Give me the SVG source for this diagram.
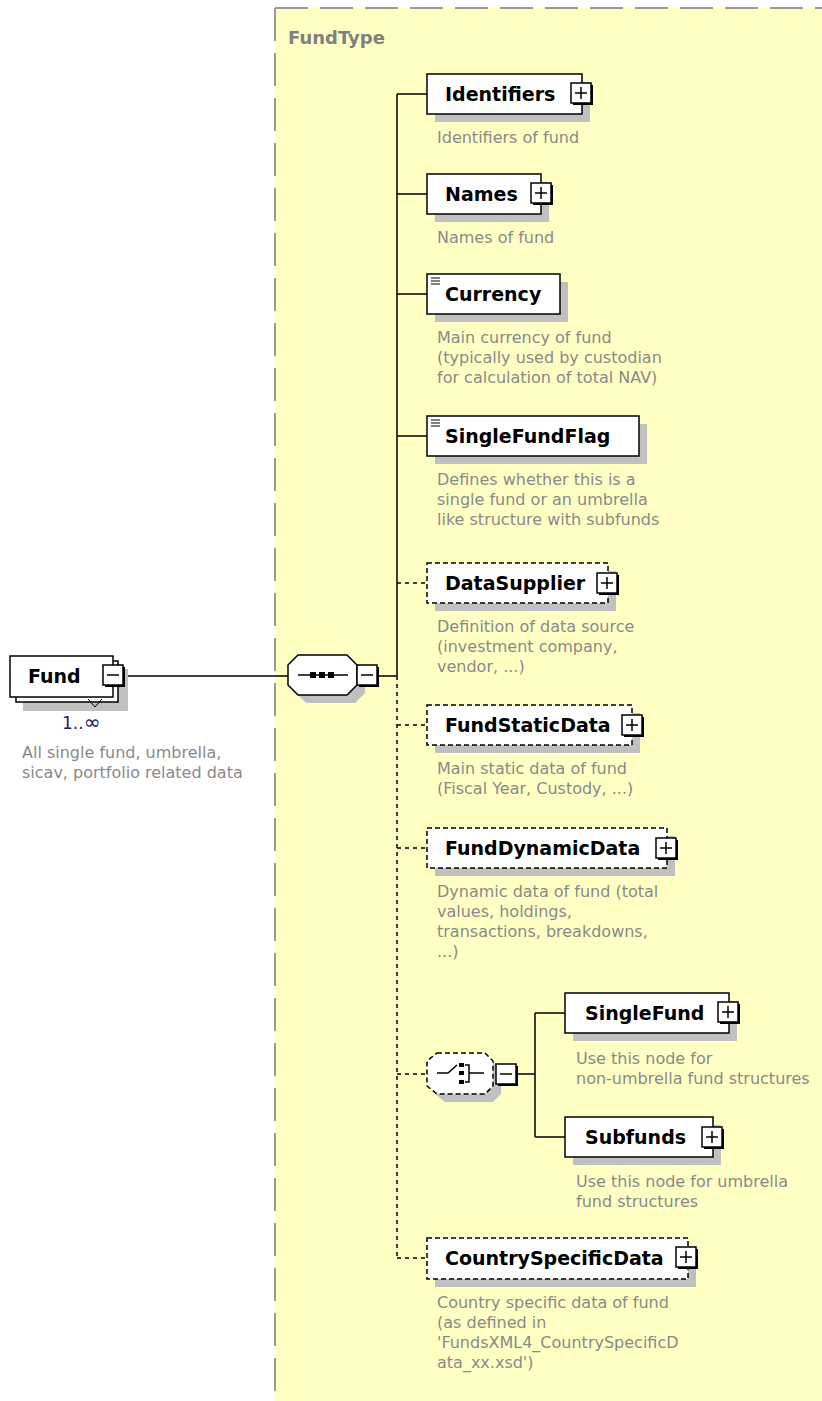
<svg xmlns="http://www.w3.org/2000/svg" xmlns:xlink="http://www.w3.org/1999/xlink" width="822" height="1401" viewBox="0 0 822 1401">
<style>
.box{fill:#fff;stroke:#000;stroke-width:1.5}
.dbox{fill:#fff;stroke:#000;stroke-width:1.5;stroke-dasharray:5 3}
.sh{fill:#c0c0c0}
.lbl{font-family:"DejaVu Sans",sans-serif;font-weight:bold;font-size:19px;fill:#000}
.desc{font-family:"DejaVu Sans",sans-serif;font-size:16px;fill:#8a8a8a}
.ln{stroke:#000;stroke-width:1.5;fill:none}
.dl{stroke:#000;stroke-width:1.5;fill:none;stroke-dasharray:4 4}
.frame{stroke:#999;stroke-width:2;fill:none;stroke-dasharray:33 12}
</style>
<defs>
<g id="plus"><rect x="2" y="2" width="20" height="20" fill="#000"/><rect x="0" y="0" width="20" height="20" fill="#fff" stroke="#000" stroke-width="1.5"/><path d="M4 10H16M10 4V16" stroke="#000" stroke-width="1.5"/></g>
<g id="minus"><rect x="2" y="2" width="20" height="20" fill="#000"/><rect x="0" y="0" width="20" height="20" fill="#fff" stroke="#000" stroke-width="1.5"/><path d="M4 10H16" stroke="#000" stroke-width="1.5"/></g>
<g id="simple"><path d="M4 4H13M4 7H13M4 10H13" stroke="#000" stroke-width="1.2"/></g>
</defs>
<rect x="0" y="0" width="822" height="1401" fill="#fff"/>
<g id="FundType">
<rect x="275" y="8" width="547" height="1393" fill="#FFFFC4"/>
<path class="frame" d="M275,8 H822 M275,8 V1401"/>
<text x="288" y="44" font-family="DejaVu Sans,sans-serif" font-weight="bold" font-size="18" fill="#808080">FundType</text>
</g>
<g id="connectors">
<path class="ln" d="M123,676 H288 M379,676 H397 M397,94 V676 M397,94 H427 M397,194 H427 M397,294 H427 M397,436 H427"/>
<path class="dl" d="M397,676 V1258 M397,583 H427 M397,725 H427 M397,848 H427 M397,1074 H427 M397,1258 H427"/>
<path class="ln" d="M518,1074 H535 M535,1013 V1137 M535,1013 H565 M535,1137 H565"/>
</g>
<g id="Fund">
<rect class="sh" x="23" y="669" width="105" height="42"/>
<rect class="box" x="16" y="661" width="102" height="41"/>
<rect class="box" x="10" y="656" width="103" height="41"/>
<path d="M88,699 L95,707 L102,699" stroke="#000" stroke-width="1" fill="none"/>
<text class="lbl" x="28" y="683">Fund</text>
<use xlink:href="#minus" x="103" y="665"/>
<text x="62" y="729" font-family="DejaVu Sans,sans-serif" font-size="17" fill="#202060">1..<tspan font-size="20">∞</tspan></text>
<text class="desc" x="22" y="758">All single fund, umbrella,</text>
<text class="desc" x="22" y="778">sicav, portfolio related data</text>
</g>
<g id="sequence">
<path class="sh" d="M306,663 H355 L365,673 V693 L355,703 H306 L296,693 V673 Z"/>
<path class="box" d="M298,655 H347 L357,665 V685 L347,695 H298 L288,685 V665 Z"/>
<path d="M298,675 H348" stroke="#000" stroke-width="1.5"/>
<rect x="310" y="672" width="6" height="6" fill="#000"/>
<rect x="319" y="672" width="6" height="6" fill="#000"/>
<rect x="328" y="672" width="6" height="6" fill="#000"/>
<use xlink:href="#minus" x="357" y="665"/>
</g>
<g id="Identifiers">
<rect class="sh" x="435" y="82" width="155" height="40"/>
<rect class="box" x="427" y="74" width="155" height="40"/>
<text class="lbl" x="445" y="101">Identifiers</text>
<use xlink:href="#plus" x="571" y="83"/>
<text class="desc" x="437" y="143">Identifiers of fund</text>
</g>
<g id="Names">
<rect class="sh" x="435" y="182" width="114" height="40"/>
<rect class="box" x="427" y="174" width="114" height="40"/>
<text class="lbl" x="445" y="201">Names</text>
<use xlink:href="#plus" x="531" y="183"/>
<text class="desc" x="437" y="243">Names of fund</text>
</g>
<g id="Currency">
<rect class="sh" x="435" y="282" width="133" height="40"/>
<rect class="box" x="427" y="274" width="133" height="40"/>
<use xlink:href="#simple" x="427" y="274"/>
<text class="lbl" x="445" y="301">Currency</text>
<text class="desc" x="437" y="343">Main currency of fund</text>
<text class="desc" x="437" y="363">(typically used by custodian</text>
<text class="desc" x="437" y="383">for calculation of total NAV)</text>
</g>
<g id="SingleFundFlag">
<rect class="sh" x="435" y="424" width="212" height="40"/>
<rect class="box" x="427" y="416" width="212" height="40"/>
<use xlink:href="#simple" x="427" y="416"/>
<text class="lbl" x="445" y="443">SingleFundFlag</text>
<text class="desc" x="437" y="485">Defines whether this is a</text>
<text class="desc" x="437" y="505">single fund or an umbrella</text>
<text class="desc" x="437" y="525">like structure with subfunds</text>
</g>
<g id="DataSupplier">
<rect class="sh" x="435" y="571" width="181" height="40"/>
<rect class="dbox" x="427" y="563" width="181" height="40"/>
<text class="lbl" x="445" y="590">DataSupplier</text>
<use xlink:href="#plus" x="597" y="573"/>
<text class="desc" x="437" y="632">Definition of data source</text>
<text class="desc" x="437" y="652">(investment company,</text>
<text class="desc" x="437" y="672">vendor, ...)</text>
</g>
<g id="FundStaticData">
<rect class="sh" x="435" y="713" width="205" height="40"/>
<rect class="dbox" x="427" y="705" width="205" height="40"/>
<text class="lbl" x="445" y="732">FundStaticData</text>
<use xlink:href="#plus" x="622" y="715"/>
<text class="desc" x="437" y="774">Main static data of fund</text>
<text class="desc" x="437" y="794">(Fiscal Year, Custody, ...)</text>
</g>
<g id="FundDynamicData">
<rect class="sh" x="435" y="836" width="240" height="40"/>
<rect class="dbox" x="427" y="828" width="240" height="40"/>
<text class="lbl" x="445" y="855">FundDynamicData</text>
<use xlink:href="#plus" x="656" y="838"/>
<text class="desc" x="437" y="897">Dynamic data of fund (total</text>
<text class="desc" x="437" y="917">values, holdings,</text>
<text class="desc" x="437" y="937">transactions, breakdowns,</text>
<text class="desc" x="437" y="957">...)</text>
</g>
<g id="choice">
<path class="sh" d="M445,1061 H493 L501,1069 V1094 L493,1102 H445 L435,1094 V1069 Z"/>
<path class="dbox" d="M437,1053 H485 L493,1061 V1086 L485,1094 H437 L427,1086 V1061 Z"/>
<path d="M437,1073 H448 L457,1065" stroke="#000" stroke-width="1.5" fill="none"/>
<rect x="459" y="1063" width="5" height="4" fill="#000"/>
<rect x="459" y="1071" width="5" height="4" fill="#000"/>
<rect x="459" y="1080" width="5" height="4" fill="#000"/>
<path d="M465,1065 H469 V1082 H465 M469,1073 H484" stroke="#000" stroke-width="1.5" fill="none"/>
<use xlink:href="#minus" x="496" y="1064"/>
</g>
<g id="SingleFund">
<rect class="sh" x="573" y="1001" width="164" height="40"/>
<rect class="box" x="565" y="993" width="164" height="40"/>
<text class="lbl" x="585" y="1020">SingleFund</text>
<use xlink:href="#plus" x="718" y="1002"/>
<text class="desc" x="576" y="1064">Use this node for</text>
<text class="desc" x="576" y="1084">non-umbrella fund structures</text>
</g>
<g id="Subfunds">
<rect class="sh" x="573" y="1125" width="148" height="40"/>
<rect class="box" x="565" y="1117" width="148" height="40"/>
<text class="lbl" x="585" y="1144">Subfunds</text>
<use xlink:href="#plus" x="702" y="1127"/>
<text class="desc" x="576" y="1187">Use this node for umbrella</text>
<text class="desc" x="576" y="1207">fund structures</text>
</g>
<g id="CountrySpecificData">
<rect class="sh" x="435" y="1246" width="261" height="41"/>
<rect class="dbox" x="427" y="1238" width="261" height="41"/>
<text class="lbl" x="445" y="1265">CountrySpecificData</text>
<use xlink:href="#plus" x="676" y="1247"/>
<text class="desc" x="437" y="1308">Country specific data of fund</text>
<text class="desc" x="437" y="1328">(as defined in</text>
<text class="desc" x="437" y="1348">'FundsXML4_CountrySpecificD</text>
<text class="desc" x="437" y="1368">ata_xx.xsd')</text>
</g>
</svg>
